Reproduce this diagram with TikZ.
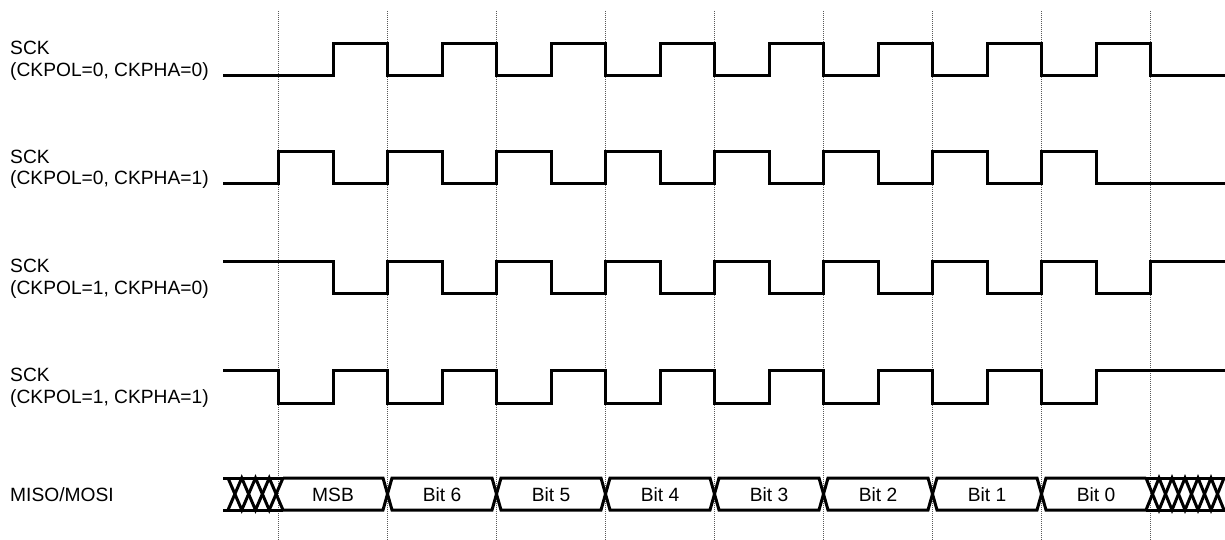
\documentclass[tikz,border=0pt]{standalone}
\usepackage{fontspec}
\setmainfont{Liberation Sans}
\begin{document}
\begin{tikzpicture}[x=1pt,y=-1pt,
  lbl/.style={anchor=base west,inner sep=0pt,font=\fontsize{19.2}{21}\selectfont},
  bitlbl/.style={anchor=base,inner sep=0pt,font=\fontsize{19.2}{21}\selectfont},
  sig/.style={line width=3pt,line join=miter,line cap=butt},
  grid/.style={line width=0.9pt,black!65,dash pattern=on 1pt off 1pt}]
\useasboundingbox (0,0) rectangle (1225,540);
% dotted time markers
\foreach \k in {0,...,8}{
  \coordinate (t\k) at ({278.5+109*\k},11);
  \coordinate (u\k) at ({278.5+109*\k},540);
  \draw[grid] (t\k) -- (u\k);
}
% labels
\node[lbl] (l1a) at (10,55) {SCK};
\node[lbl] (l1b) at (10,76.5) {(CKPOL=0, CKPHA=0)};
\node[lbl] (l2a) at (10,163.5) {SCK};
\node[lbl] (l2b) at (10,185) {(CKPOL=0, CKPHA=1)};
\node[lbl] (l3a) at (10,272.5) {SCK};
\node[lbl] (l3b) at (10,294) {(CKPOL=1, CKPHA=0)};
\node[lbl] (l4a) at (10,381.5) {SCK};
\node[lbl] (l4b) at (10,403) {(CKPOL=1, CKPHA=1)};
\node[lbl] (l5) at (10,501.5) {MISO/MOSI};
% waveform 1: CKPOL=0, CKPHA=0
\draw[sig] (223,76) \foreach \k in {0,...,7}{
  -- ({333+109*\k},76) -- ({333+109*\k},44) -- ({387.5+109*\k},44) -- ({387.5+109*\k},76)
} -- (1225,76);
% waveform 2: CKPOL=0, CKPHA=1
\draw[sig] (223,184) \foreach \k in {0,...,7}{
  -- ({278.5+109*\k},184) -- ({278.5+109*\k},152) -- ({333+109*\k},152) -- ({333+109*\k},184)
} -- (1225,184);
% waveform 3: CKPOL=1, CKPHA=0
\draw[sig] (223,261) \foreach \k in {0,...,7}{
  -- ({333+109*\k},261) -- ({333+109*\k},293) -- ({387.5+109*\k},293) -- ({387.5+109*\k},261)
} -- (1225,261);
% waveform 4: CKPOL=1, CKPHA=1
\draw[sig] (223,370) \foreach \k in {0,...,7}{
  -- ({278.5+109*\k},370) -- ({278.5+109*\k},403) -- ({333+109*\k},403) -- ({333+109*\k},370)
} -- (1225,370);
% data bus: left hatch
\draw[sig] (223,478) -- (283,478);
\draw[sig] (223,510) -- (283,510);
\draw[sig] (228,478) -- (241.75,510) -- (255.5,478) -- (269.25,510) -- (283,478);
\draw[sig] (228,510) -- (241.75,478) -- (255.5,510) -- (269.25,478) -- (283,510);
% first cell (open on the left)
\draw[sig] (283,478) -- (383,478) -- (387.5,494) -- (383,510) -- (283,510);
% middle cells
\foreach \k in {1,...,6}{
  \draw[sig] ({278.5+109*\k},494) -- ({283+109*\k},478) -- ({383+109*\k},478) -- ({387.5+109*\k},494)
     -- ({383+109*\k},510) -- ({283+109*\k},510) -- cycle;
}
% last cell (open on the right)
\draw[sig] (1146,478) -- (1046,478) -- (1041.5,494) -- (1046,510) -- (1146,510);
% right hatch
\draw[sig] (1146,478) -- (1225,478);
\draw[sig] (1146,510) -- (1225,510);
\draw[sig] (1146,478) -- (1159,510) -- (1172,478) -- (1185,510) -- (1198,478) -- (1211,510) -- (1224,478);
\draw[sig] (1146,510) -- (1159,478) -- (1172,510) -- (1185,478) -- (1198,510) -- (1211,478) -- (1224,510);
% bit labels
\node[bitlbl] (b0) at (333,501.5) {MSB};
\node[bitlbl] (b1) at (442,501.5) {Bit 6};
\node[bitlbl] (b2) at (551,501.5) {Bit 5};
\node[bitlbl] (b3) at (660,501.5) {Bit 4};
\node[bitlbl] (b4) at (769,501.5) {Bit 3};
\node[bitlbl] (b5) at (878,501.5) {Bit 2};
\node[bitlbl] (b6) at (987,501.5) {Bit 1};
\node[bitlbl] (b7) at (1096,501.5) {Bit 0};
\end{tikzpicture}
\end{document}
